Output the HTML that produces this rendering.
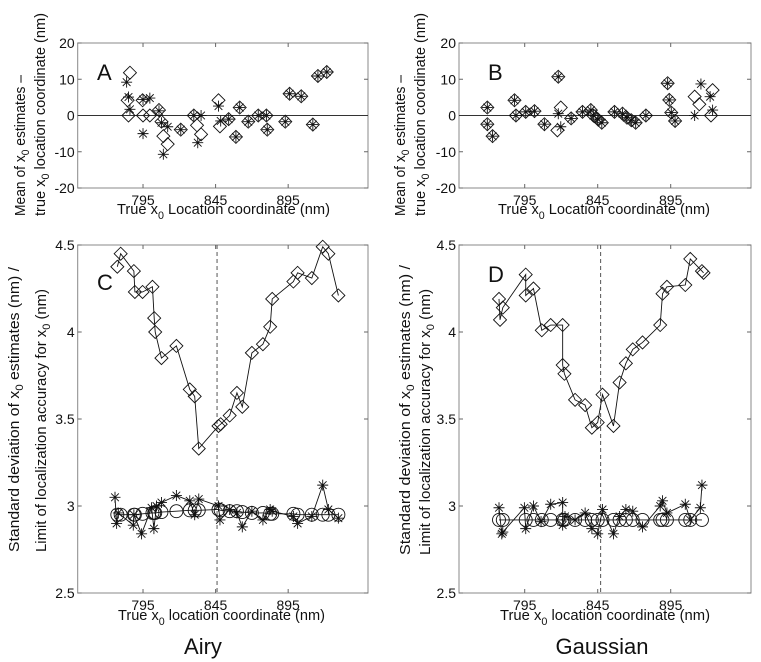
<!DOCTYPE html>
<html><head><meta charset="utf-8"><style>
html,body{margin:0;padding:0;background:#fff;}
svg{display:block;font-family:"Liberation Sans",Arial,sans-serif;}
</style></head><body>
<svg id="fig" width="761" height="662" viewBox="0 0 761 662"></svg>
<script>
// ---- data ----
const aDiaX=[786,784.4,785,794.7,795,799.7,806,807.7,809,812,821,830,832.2,835,847,848,854,859,861.6,867.5,874.4,880,880.6,893,896,904,912,915.5,921.6];
const aDiaY=[11.8,4.2,0,4.2,0,0,1.5,-1.7,-5.7,-7.9,-3.9,0,-2.7,-5.2,4.2,-3,-1,-5.9,2.2,-1.7,0,0,-3.9,-1.7,6,5.3,-2.5,10.9,12];
const aStarX=[783.7,785,786,795,795,799.7,806,807.7,809,812,821,830,832.7,835,847,848.5,854,859,861.6,867.5,874.4,880,880.6,893,896,904,912,915.5,921.6];
const aStarY=[9.2,5.1,1.7,-5,4.4,4.8,1.3,-2,-10.7,-3.1,-3.9,0,-7.5,0,2.6,-1.5,-1,-5.9,2.2,-1.7,0,0,-3.9,-1.7,6,5.3,-2.5,10.9,12];
const bDiaX=[769.4,769.4,773,788,789,795.7,801.7,808.5,818,819.7,817.4,826.8,834.6,840.3,842,845,847.8,856.5,862,865,868,871,878,892.9,894,895.4,898,911.4,914.6,923.7,922.6];
const bDiaY=[2.2,-2.4,-5.7,4.2,0,1,1.2,-2.4,10.7,2.2,-4.1,-0.8,1,1.5,0,-1,-2,1,0.5,-0.6,-1.3,-2,0,8.9,4.3,0.8,-1.5,5.2,3.1,7,0];
const bStarX=[769.4,769.4,773,788,789,795.7,801.7,808.5,818,818,819.7,826.8,834.6,840.3,842,845,847.8,856.5,862,865,868,871,878,892.9,894,895.4,898,911.4,915.7,922,923.7];
const bStarY=[2.2,-2.4,-5.7,4.2,0,1,1.2,-2.4,10.7,0.5,-3.1,-0.8,1,1.5,0,-1,-2,1,0.5,-0.6,-1.3,-2,0,8.9,4.3,0.8,-1.5,0,8.7,5.2,1.5];
const cDiaX=[777.3,779.6,788.7,789.4,794.7,801.5,802.7,803.4,807.7,818,827.2,830.6,833.4,847,848.5,854.7,859.7,863.4,870,877.6,882.6,884,898.6,901.5,911.3,918.8,922.7,929.6];
const cDiaY=[4.375,4.45,4.35,4.23,4.23,4.26,4.08,4.0,3.85,3.92,3.67,3.63,3.33,3.46,3.47,3.52,3.65,3.57,3.88,3.93,4.03,4.19,4.29,4.34,4.31,4.49,4.45,4.21];
const cStarX=[775.7,776.8,778,788.3,788.7,794,800.9,802.5,804.3,807.7,818,827.2,830.6,833.4,847,848,854.7,859.7,863.4,870,877.6,882.6,884,898.6,901.5,911.3,918.8,922.7,929.6];
const cStarY=[3.05,2.9,2.96,2.89,2.95,2.84,2.99,2.87,3.0,3.02,3.06,3.03,2.95,3.04,3.0,2.92,2.98,2.96,2.88,2.97,2.92,2.98,2.97,2.94,2.90,2.94,3.12,2.98,2.93];
const cCircX=[777.3,779.6,788.7,789.4,794.7,801.5,802.7,803.4,807.7,818,827.2,830.6,833.4,847,848.5,854.7,859.7,863.4,870,877.6,882.6,884,898.6,901.5,911.3,918.8,922.7,929.6];
const cCircY=[2.95,2.95,2.95,2.95,2.955,2.96,2.96,2.96,2.965,2.97,2.975,2.975,2.975,2.98,2.975,2.97,2.97,2.965,2.96,2.96,2.955,2.955,2.955,2.95,2.95,2.95,2.95,2.95];
const dDiaX=[777.4,778.1,780,795.7,795.7,801,806.7,812.8,821,821,822.2,829.5,836.4,841,845,848.3,855.8,860,864.3,869,875.7,887.8,889.4,892.4,905,908.4,916.4,917.5];
const dDiaY=[4.19,4.07,4.14,4.33,4.21,4.25,4.01,4.04,4.04,3.81,3.76,3.61,3.58,3.45,3.48,3.64,3.46,3.71,3.82,3.9,3.94,4.04,4.22,4.26,4.27,4.42,4.35,4.34];
const dStarX=[777.4,779.3,780,794.8,795.7,801,806.2,812.8,821,821,822.6,829.5,836.4,841,845,848.3,855.8,860,864.3,869,875.7,887.8,889.4,892.4,905,908.4,915.3,916.4];
const dStarY=[2.99,2.84,2.85,2.99,2.87,3.0,2.91,3.01,3.02,2.89,2.94,2.92,2.96,2.87,2.84,2.98,2.84,2.94,2.98,2.97,2.88,3.0,3.03,2.96,3.01,2.92,2.99,3.12];
const dCircX=[777.4,780,795.7,801,806.7,812.8,821,822.2,829.5,836.4,841,845,848.3,855.8,860,864.3,869,875.7,887.8,889.4,892.4,905,908.4,916.4];
const dCircY=[2.92,2.92,2.92,2.92,2.92,2.92,2.92,2.92,2.92,2.92,2.92,2.92,2.92,2.92,2.92,2.92,2.92,2.92,2.92,2.92,2.92,2.92,2.92,2.92];
const xTicks=[795,845,895];
const topYTicks=[-20,-10,0,10,20];
const botYTicks=[2.5,3,3.5,4,4.5];
const botYTickLabels=["2.5","3","3.5","4","4.5"];

const NS="http://www.w3.org/2000/svg";
const svg=document.getElementById('fig');
function mk(tag,attrs,parent){const e=document.createElementNS(NS,tag);for(const k in attrs)e.setAttribute(k,attrs[k]);(parent||svg).appendChild(e);return e;}

function panel(name,L,T,R,B,ymin,ymax,yTicks,yLabs,letter,lx,ly){
  const g=mk('g',{});
  
  
  const sx=v=>L+(v-750)/200*(R-L);
  const sy=v=>B-(v-ymin)/(ymax-ymin)*(B-T);
  const box=mk('rect',{x:L,y:T,width:R-L,height:B-T,fill:'none',stroke:'#888','stroke-width':1},g);
  
  
  xTicks.forEach(t=>{
    mk('line',{x1:sx(t),x2:sx(t),y1:B,y2:B-4,stroke:'#666'},g);
    mk('line',{x1:sx(t),x2:sx(t),y1:T,y2:T+4,stroke:'#666'},g);
    const tx=mk('text',{x:sx(t),y:B+17,'font-size':14,'text-anchor':'middle',fill:'#111'},g);
    tx.textContent=t;
    
    
  });
  yTicks.forEach((t,i)=>{
    mk('line',{x1:L,x2:L+4,y1:sy(t),y2:sy(t),stroke:'#666'},g);
    mk('line',{x1:R,x2:R-4,y1:sy(t),y2:sy(t),stroke:'#666'},g);
    const tx=mk('text',{x:L-3,y:sy(t)+5,'font-size':14,'text-anchor':'end',fill:'#111'},g);
    tx.textContent=yLabs[i];
    
    
  });
  const lt=mk('text',{x:lx,y:ly,'font-size':22,fill:'#111'},g);
  lt.textContent=letter;
  
  
  return {g,sx,sy};
}
function diamond(p,x,y,h){const e=mk('path',{d:`M${x-h},${y}L${x},${y-h}L${x+h},${y}L${x},${y+h}Z`,fill:'none',stroke:'#111','stroke-width':0.9},p.g);
  
  }
function star(p,x,y,h){const d=h*0.7;const e=mk('path',{d:`M${x-h},${y}H${x+h}M${x},${y-h}V${y+h}M${x-d},${y-d}L${x+d},${y+d}M${x-d},${y+d}L${x+d},${y-d}`,stroke:'#111','stroke-width':0.9,fill:'none'},p.g);
  
  }
function circ(p,x,y,r){const e=mk('circle',{cx:x,cy:y,r:r,fill:'none',stroke:'#111','stroke-width':0.9},p.g);
  
  }
function line(p,X,Y,name){const pts=X.map((x,i)=>p.sx(x)+','+p.sy(Y[i])).join(' ');
  const e=mk('polyline',{points:pts,fill:'none',stroke:'#111','stroke-width':0.9},p.g);
  
  }

const topLabs=topYTicks.map(String);
const pA=panel('a',77.7,43,368,188,-20,20,topYTicks,topLabs,'A',97,80);
const pB=panel('b',459,43,751,188,-20,20,topYTicks,topLabs,'B',488,80);
[pA,pB].forEach(p=>{const z=mk('line',{x1:p.sx(750),x2:p.sx(950),y1:p.sy(0),y2:p.sy(0),stroke:'#333','stroke-width':1},p.g);
  
  });
aDiaX.forEach((x,i)=>diamond(pA,pA.sx(x),pA.sy(aDiaY[i]),6.5));
aStarX.forEach((x,i)=>star(pA,pA.sx(x),pA.sy(aStarY[i]),5.5));
bDiaX.forEach((x,i)=>diamond(pB,pB.sx(x),pB.sy(bDiaY[i]),6.5));
bStarX.forEach((x,i)=>star(pB,pB.sx(x),pB.sy(bStarY[i]),5.5));

const pC=panel('c',77.7,245,368,593,2.5,4.5,botYTicks,botYTickLabels,'C',97,290);
const pD=panel('d',459,245,751,593,2.5,4.5,botYTicks,botYTickLabels,'D',488,282);
[[pC,846],[pD,847]].forEach(([p,v])=>{const e=mk('line',{x1:p.sx(v),x2:p.sx(v),y1:245,y2:593,stroke:'#555','stroke-dasharray':'4,3','stroke-width':1},p.g);
  
  });
line(pC,cDiaX,cDiaY,'diamond-series-line');
line(pC,cStarX,cStarY,'star-series-line');
line(pC,cCircX,cCircY,'circle-series-line');
cDiaX.forEach((x,i)=>diamond(pC,pC.sx(x),pC.sy(cDiaY[i]),6.5));
cStarX.forEach((x,i)=>star(pC,pC.sx(x),pC.sy(cStarY[i]),5.5));
cCircX.forEach((x,i)=>circ(pC,pC.sx(x),pC.sy(cCircY[i]),6.5));
line(pD,dDiaX,dDiaY,'diamond-series-line');
line(pD,dStarX,dStarY,'star-series-line');
line(pD,dCircX,dCircY,'circle-series-line');
dDiaX.forEach((x,i)=>diamond(pD,pD.sx(x),pD.sy(dDiaY[i]),6.5));
dStarX.forEach((x,i)=>star(pD,pD.sx(x),pD.sy(dStarY[i]),5.5));
dCircX.forEach((x,i)=>circ(pD,pD.sx(x),pD.sy(dCircY[i]),6.5));
</script>
<svg width="761" height="662" viewBox="0 0 761 662" style="position:absolute;left:0;top:0;font-family:'Liberation Sans',Arial,sans-serif;fill:#111">
  <text x="117" y="214" font-size="15" textLength="213" lengthAdjust="spacingAndGlyphs">True x<tspan dy="5" font-size="11">0</tspan><tspan dy="-5"> Location coordinate (nm)</tspan></text>
  <text x="498" y="214" font-size="15" textLength="212" lengthAdjust="spacingAndGlyphs">True x<tspan dy="5" font-size="11">0</tspan><tspan dy="-5"> Location coordinate (nm)</tspan></text>
  <text x="118" y="620" font-size="15" textLength="207" lengthAdjust="spacingAndGlyphs">True x<tspan dy="5" font-size="11">0</tspan><tspan dy="-5"> location coordinate (nm)</tspan></text>
  <text x="500" y="620" font-size="15" textLength="210" lengthAdjust="spacingAndGlyphs">True x<tspan dy="5" font-size="11">0</tspan><tspan dy="-5"> location coordinate (nm)</tspan></text>
  <g transform="translate(0,216) rotate(-90)">
    <text x="0" y="25" font-size="15" textLength="141" lengthAdjust="spacingAndGlyphs">Mean of x<tspan dy="4" font-size="11">0</tspan><tspan dy="-4"> estimates –</tspan></text>
    <text x="0" y="45" font-size="15" textLength="203" lengthAdjust="spacingAndGlyphs">true  x<tspan dy="4" font-size="11">0</tspan><tspan dy="-4"> location coordinate (nm)</tspan></text>
  </g>
  <g transform="translate(380,216) rotate(-90)">
    <text x="0" y="25" font-size="15" textLength="141" lengthAdjust="spacingAndGlyphs">Mean of x<tspan dy="4" font-size="11">0</tspan><tspan dy="-4"> estimates –</tspan></text>
    <text x="0" y="45" font-size="15" textLength="203" lengthAdjust="spacingAndGlyphs">true  x<tspan dy="4" font-size="11">0</tspan><tspan dy="-4"> location coordinate (nm)</tspan></text>
  </g>
  <g transform="translate(0,552) rotate(-90)">
    <text x="0" y="19" font-size="15" textLength="285" lengthAdjust="spacingAndGlyphs">Standard deviation of x<tspan dy="4" font-size="11">0</tspan><tspan dy="-4"> estimates (nm) /</tspan></text>
    <text x="0" y="46" font-size="15" textLength="263" lengthAdjust="spacingAndGlyphs">Limit of localization accuracy for x<tspan dy="4" font-size="11">0</tspan><tspan dy="-4"> (nm)</tspan></text>
  </g>
  <g transform="translate(380,555) rotate(-90)">
    <text x="0" y="30" font-size="15" textLength="290" lengthAdjust="spacingAndGlyphs">Standard deviation of x<tspan dy="4" font-size="11">0</tspan><tspan dy="-4"> estimates (nm) /</tspan></text>
    <text x="0" y="50" font-size="15" textLength="266" lengthAdjust="spacingAndGlyphs">Limit of localization accuracy for x<tspan dy="4" font-size="11">0</tspan><tspan dy="-4"> (nm)</tspan></text>
  </g>
  <text x="203" y="654" font-size="22" text-anchor="middle">Airy</text>
  <text x="602" y="654" font-size="22" text-anchor="middle">Gaussian</text>
</svg>
</body></html>
